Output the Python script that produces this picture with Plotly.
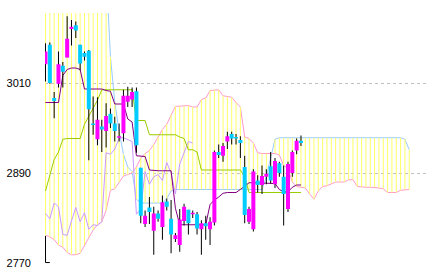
import plotly.graph_objects as go

# ---- candle data (index 0..59) ----
opens = [3035, 3061, 2990, 3009, 3033, 3044, 3082, 3087, 3061, 3050,
         3053, 2956, 2935, 2952, 2946, 2969, 2956, 2937, 2943, 2985,
         2988, 2999, 2897, 2822, 2844, 2813, 2836, 2818, 2852, 2829,
         2802, 2794, 2826, 2841, 2835, 2835, 2815, 2823, 2815, 2824,
         2918, 2913, 2932, 2942, 2938, 2934, 2898, 2825, 2815, 2880,
         2874, 2885, 2899, 2875, 2903, 2885, 2842, 2890, 2920, 2933]
highs = [3063, 3064, 2998, 3052, 3038, 3099, 3094, 3092, 3061, 3052,
         3054, 2992, 2991, 2961, 2983, 2976, 2965, 2956, 3001, 3005,
         3004, 3004, 2897, 2840, 2858, 2845, 2840, 2860, 2856, 2854,
         2810, 2842, 2849, 2841, 2840, 2838, 2827, 2833, 2831, 2920,
         2928, 2930, 2945, 2945, 2942, 2939, 2913, 2845, 2895, 2887,
         2900, 2895, 2918, 2910, 2905, 2900, 2905, 2920, 2936, 2940]
lows = [3012, 3009, 2963, 3004, 3004, 3044, 3060, 3070, 3027, 3040,
        2907, 2941, 2927, 2918, 2924, 2950, 2932, 2932, 2932, 2978,
        2978, 2917, 2823, 2818, 2822, 2781, 2825, 2801, 2840, 2783,
        2798, 2785, 2820, 2808, 2830, 2808, 2781, 2801, 2794, 2820,
        2910, 2905, 2922, 2928, 2928, 2910, 2823, 2822, 2812, 2864,
        2862, 2875, 2876, 2870, 2885, 2820, 2838, 2885, 2915, 2926]
closes = [3052, 3010, 2986, 3035, 3025, 3069, 3085, 3080, 3036, 3045,
          2975, 2954, 2961, 2948, 2966, 2956, 2946, 2939, 2993, 2993,
          2998, 2927, 2833, 2833, 2838, 2836, 2829, 2851, 2845, 2808,
          2807, 2828, 2845, 2823, 2837, 2816, 2823, 2819, 2825, 2918,
          2914, 2926, 2939, 2936, 2936, 2930, 2834, 2842, 2892, 2874,
          2886, 2889, 2880, 2906, 2890, 2862, 2902, 2918, 2933, 2930]

tenkan = [2984, 2984, 2984, 2984, 3020, 3028, 3030, 3030, 3028, 3002,
          3002, 3002, 3002, 3002, 3000, 2999, 2982, 2982, 2982, 2962,
          2958, 2913, 2913, 2912, 2894, 2893, 2893, 2893, 2893, 2893,
          2843, 2821, 2821, 2821, 2821, 2821, 2821, 2821, 2848, 2854,
          2858, 2863, 2864, 2864, 2864, 2868, 2872, 2877, 2877, 2877,
          2877, 2877, 2877, 2876, 2868, 2865, 2865, 2871, 2874, 2874]
kijun = [2866, 2889, 2908, 2918, 2935, 2936, 2936, 2936, 2936, 2955,
         2966, 2975, 2987, 3001, 3001, 3001, 3001, 3001, 3001, 3001,
         3001, 2960, 2960, 2960, 2941, 2941, 2941, 2941, 2941, 2941,
         2941, 2938, 2936, 2921, 2921, 2918, 2894, 2894, 2894, 2894,
         2894, 2894, 2894, 2894, 2894, 2894, 2885, 2864, 2864, 2864,
         2864, 2864, 2864, 2864, 2864, 2864, 2864, 2864, 2864, 2864]
chikou = [2836, 2829, 2850, 2845, 2808, 2807, 2826, 2844, 2825, 2837,
          2815, 2821, 2820, 2825, 2917, 2915, 2922, 2936, 2937, 2934,
          2932, 2835, 2842, 2892, 2875, 2885, 2888, 2880, 2904, 2890,
          2862, 2902, 2918, 2932, 2930]
span_a = [2807, 2805, 2801, 2794, 2791, 2784, 2781, 2781, 2783, 2794,
          2805, 2814, 2821, 2825, 2840, 2867, 2869, 2878, 2886, 2888,
          2890, 2898, 2910, 2916, 2920, 2928, 2938, 2948, 2955, 2968,
          2979, 2979, 2979, 2980, 2978, 2978, 2988, 2990, 3000, 3001,
          3001, 2993, 2992, 2991, 2984, 2978, 2938, 2936, 2930, 2917,
          2916, 2916, 2916, 2916, 2914, 2900, 2896, 2878, 2872, 2871,
          2870, 2862, 2855, 2866, 2872, 2873, 2876, 2878, 2878, 2878,
          2881, 2881, 2872, 2871, 2871, 2871, 2871, 2870, 2869, 2864,
          2864, 2864, 2867, 2868, 2868]
span_b = [3160, 3160, 3160, 3160, 3160, 3160, 3160, 3160, 3160, 3160,
          3160, 3160, 3160, 3160, 3160, 3045, 2985, 2945, 2915, 2898,
          2892, 2855, 2850, 2850, 2850, 2850, 2850, 2850, 2856, 2866,
          2868, 2868, 2868, 2868, 2868, 2868, 2868, 2868, 2868, 2868,
          2868, 2868, 2868, 2868, 2868, 2868, 2868, 2868, 2868, 2868,
          2868, 2885, 2912, 2935, 2937, 2937, 2937, 2937, 2937, 2937,
          2937, 2937, 2937, 2937, 2937, 2937, 2937, 2937, 2937, 2937,
          2937, 2937, 2937, 2937, 2937, 2937, 2937, 2937, 2937, 2937,
          2937, 2937, 2937, 2935, 2921]
edge_x = [0, 0, 1]
edge_y = [2806, 2770.6, 2770.6]
tick_vals = [2770, 2890, 3010]
tick_text = ["2770", "2890", "3010"]

PINK = "#ff00ff"
CYAN = "#00ccff"

fig = go.Figure()


def seg_trace(xs, y0s, y1s, color, width):
    px, py = [], []
    for x, a, b in zip(xs, y0s, y1s):
        px += [x, x, None]
        py += [a, b, None]
    return go.Scatter(x=px, y=py, mode="lines", line=dict(color=color, width=width),
                      hoverinfo="skip", connectgaps=False)


# cloud boundaries
fig.add_trace(go.Scatter(x=list(range(len(span_b))), y=span_b, mode="lines",
                         line=dict(color="#99ccff", width=1), hoverinfo="skip"))
fig.add_trace(go.Scatter(x=list(range(len(span_a))), y=span_a, mode="lines",
                         line=dict(color="#ff99cc", width=1), hoverinfo="skip"))
# cloud hatching
fig.add_trace(seg_trace(list(range(len(span_a))), span_a, span_b, "#ffff66", 1))
# lines
fig.add_trace(go.Scatter(x=list(range(len(chikou))), y=chikou, mode="lines",
                         line=dict(color="#cc99ff", width=1), hoverinfo="skip"))
fig.add_trace(go.Scatter(x=list(range(len(kijun))), y=kijun, mode="lines",
                         line=dict(color="#99cc00", width=1), hoverinfo="skip"))
fig.add_trace(go.Scatter(x=list(range(len(tenkan))), y=tenkan, mode="lines",
                         line=dict(color="#800080", width=1), hoverinfo="skip"))
fig.add_trace(go.Scatter(x=edge_x, y=edge_y, mode="lines",
                         line=dict(color="black", width=1), hoverinfo="skip"))
# wicks
fig.add_trace(seg_trace(list(range(len(opens))), lows, highs, "black", 1))
# bodies
up_x, up_lo, up_hi, dn_x, dn_lo, dn_hi = [], [], [], [], [], []
for i, (o, c) in enumerate(zip(opens, closes)):
    lo, hi = min(o, c), max(o, c)
    if hi - lo < 1.4:
        hi = lo + 1.4
    if c >= o:
        up_x.append(i); up_lo.append(lo); up_hi.append(hi)
    else:
        dn_x.append(i); dn_lo.append(lo); dn_hi.append(hi)
fig.add_trace(seg_trace(up_x, up_lo, up_hi, PINK, 4))
fig.add_trace(seg_trace(dn_x, dn_lo, dn_hi, CYAN, 4))

fig.update_layout(width=432, height=277, margin=dict(l=45, r=6, t=13, b=13),
                  paper_bgcolor="white", plot_bgcolor="white", showlegend=False)
fig.update_xaxes(range=[-0.115, 87.87], showgrid=False, showticklabels=False,
                 zeroline=False, showline=False, ticks="")
fig.update_yaxes(range=[2768.67, 3103.33], tickvals=tick_vals, ticktext=tick_text,
                 showgrid=True, gridcolor="#c0c0c0", griddash="3px,3px", gridwidth=1,
                 zeroline=False, showline=False, ticks="", automargin=False,
                 ticklabelstandoff=13,
                 tickfont=dict(family="Liberation Sans", size=11, color="black"))

fig.write_html("out.html", config={"displayModeBar": False})
